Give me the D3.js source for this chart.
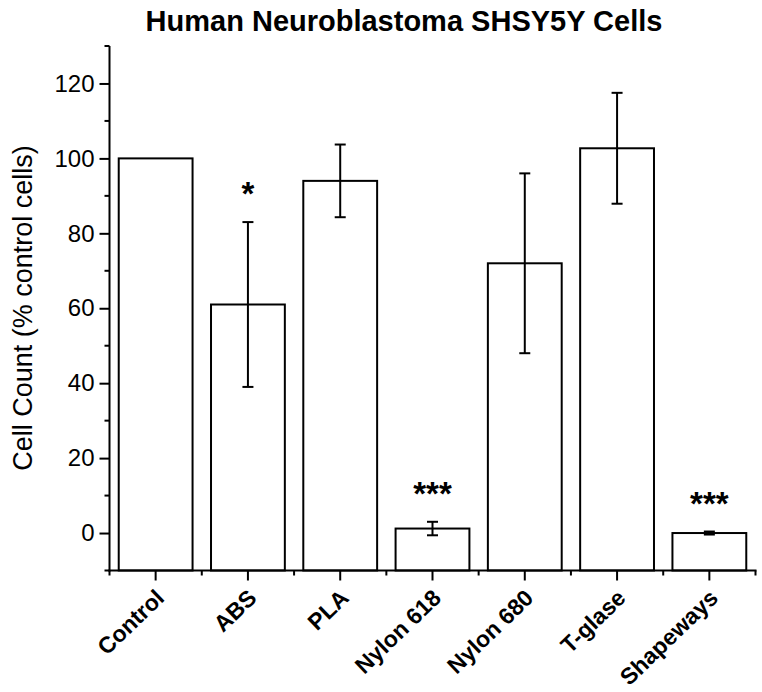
<!DOCTYPE html>
<html><head><meta charset="utf-8">
<script src="https://cdn.jsdelivr.net/npm/d3@7"></script>
<style>body{margin:0;background:#fff}svg{display:block}text{font-family:"Liberation Sans",Arial,sans-serif}</style>
</head><body><div id="c"></div>
<script>
const categories = ["Control","ABS","PLA","Nylon 618","Nylon 680","T-glase","Shapeways"];
const values = [100, 61, 94, 1.2, 72, 102.7, 0];
const errors = [0, 22, 9.7, 1.8, 24, 14.8, 0.4];
const significance = ["", "*", "", "***", "", "", "***"];
const yTicks = [0,20,40,60,80,100,120];
const title = "Human Neuroblastoma SHSY5Y Cells";
const yTitle = "Cell Count (% control cells)";

const W=762,H=692;
const svg=d3.select("#c").append("svg").attr("width",W).attr("height",H);
const x=d3.scaleBand().domain(categories).range([109.5,755.5]).paddingInner(0.2).paddingOuter(0.1);
const y=d3.scaleLinear().domain([-10,130]).range([570.5,46]);

const g=svg.append("g");
g.selectAll("rect.bar").data(categories).join("rect")
 .attr("x",d=>x(d)).attr("width",x.bandwidth())
 .attr("y",(d,i)=>y(values[i])).attr("height",(d,i)=>y(-10)-y(values[i]))
 .attr("fill","#fff").attr("stroke","#000").attr("stroke-width",2);
const cx=d=>x(d)+x.bandwidth()/2;
categories.forEach((d,i)=>{
  if(errors[i]<=0) return;
  const c=cx(d), t=y(values[i]+errors[i]), b=y(values[i]-errors[i]);
  g.append("line").attr("x1",c).attr("x2",c).attr("y1",t).attr("y2",b).attr("stroke","#000").attr("stroke-width",2);
  [t,b].forEach(v=>g.append("line").attr("x1",c-5.5).attr("x2",c+5.5).attr("y1",v).attr("y2",v).attr("stroke","#000").attr("stroke-width",2));
});
categories.forEach((d,i)=>{
  if(!significance[i]) return;
  g.append("text").attr("x",cx(d)).attr("y",y(values[i]+errors[i])-17)
   .attr("text-anchor","middle").attr("font-size",33).attr("font-weight","bold").text(significance[i]);
});

const yAxis=d3.axisLeft(y).tickValues(yTicks).tickSize(10).tickSizeOuter(0);
const ya=svg.append("g").attr("transform","translate(109.5,0)").call(yAxis);
ya.select(".domain").attr("stroke-width",2).attr("d","M0,46V571.5");
ya.selectAll(".tick line").attr("stroke-width",2);
ya.selectAll(".tick text").attr("font-size",24).attr("x",-15).attr("fill","#000").style("font-family","Liberation Sans, Arial, sans-serif");
const minorY=d3.range(-10,131,10).filter(v=>!yTicks.includes(v));
ya.selectAll("line.minor").data(minorY).join("line").attr("class","minor")
 .attr("x1",-5).attr("x2",0).attr("y1",d=>y(d)).attr("y2",d=>y(d)).attr("stroke","#000").attr("stroke-width",2);

const xAxis=d3.axisBottom(x).tickSize(10).tickSizeOuter(0);
const xa=svg.append("g").attr("transform",`translate(0,${y(-10)})`).call(xAxis);
xa.select(".domain").attr("stroke-width",2).attr("d","M108.5,0H756.5");
xa.selectAll(".tick line").attr("stroke-width",2);
xa.selectAll(".tick text").attr("font-size",23).attr("font-weight","bold").attr("fill","#000")
 .style("font-family","Liberation Sans, Arial, sans-serif")
 .attr("text-anchor","end").attr("dy",null).attr("y",0)
 .attr("transform","translate(10,29) rotate(-44)");
const minorX=d3.range(categories.length+1).map(i=>109.5+i*(755.5-109.5)/categories.length);
xa.selectAll("line.minor").data(minorX).join("line").attr("class","minor")
 .attr("x1",d=>d).attr("x2",d=>d).attr("y1",0).attr("y2",5).attr("stroke","#000").attr("stroke-width",2);

svg.append("text").attr("x",404).attr("y",31).attr("text-anchor","middle")
 .attr("font-size",29).attr("font-weight","bold").text(title);
svg.append("text").attr("transform","translate(32,308) rotate(-90)").attr("text-anchor","middle")
 .attr("font-size",27).text(yTitle);
</script></body></html>
